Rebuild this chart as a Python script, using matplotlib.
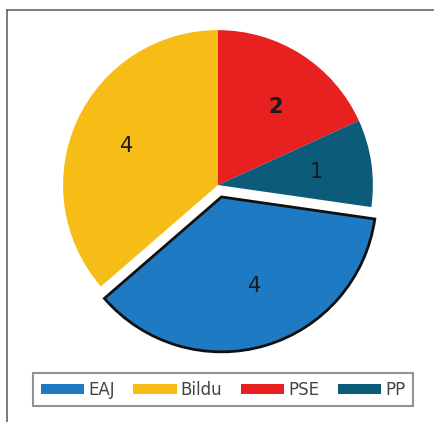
import matplotlib.pyplot as plt
from matplotlib.patches import Patch
from matplotlib.lines import Line2D

# Seats by party
parties = ['EAJ', 'Bildu', 'PSE', 'PP']
seats = [4, 4, 2, 1]
colors = ['#1f7ac4', '#f6bd16', '#e8201f', '#0c5b78']
explode = [0.08, 0, 0, 0]


def main():
    fig = plt.figure(figsize=(4.35, 4.22), dpi=100)
    ax = fig.add_axes([0.0736, 0.121, 0.855, 0.881])

    total = sum(seats)
    # EAJ + Bildu sweep clockwise down to the top (90 deg)
    start = 90 + 360.0 * (seats[0] + seats[1]) / total
    wedges, texts = ax.pie(
        seats, colors=colors, explode=explode, startangle=start,
        counterclock=False, labels=[str(s) for s in seats],
        labeldistance=0.6,
        wedgeprops=dict(edgecolor='none', linewidth=0),
        textprops=dict(fontsize=15, color='#1a1a1a'))
    # exploded slice gets a dark rim and a white gap
    wedges[0].set_edgecolor('#111111')
    wedges[0].set_linewidth(2.0)
    texts[2].set_fontweight('bold')
    ax.set_xlim(-1.2, 1.2)
    ax.set_ylim(-1.2, 1.2)
    ax.set_aspect('equal')
    ax.axis('off')

    handles = [Patch(facecolor=c, edgecolor='none') for c in colors]
    leg = fig.legend(handles, parties, loc='center', bbox_to_anchor=(0.513, 0.076),
                     ncol=4, fontsize=12, frameon=True, fancybox=False,
                     handlelength=2.6, handleheight=0.55, handletextpad=0.25,
                     columnspacing=1.1, borderpad=0.45)
    leg.get_frame().set_edgecolor('#777777')
    leg.get_frame().set_linewidth(1.5)
    for t in leg.get_texts():
        t.set_color('#444444')

    # page frame (top and left edges)
    fig.add_artist(Line2D([7 / 435, 7 / 435], [0, 1 - 10 / 422], color='#666666', lw=1.2))
    fig.add_artist(Line2D([7 / 435, 1], [1 - 10 / 422, 1 - 10 / 422], color='#666666', lw=1.2))

    fig.savefig('out.png', dpi=100)


if __name__ == '__main__':
    main()
